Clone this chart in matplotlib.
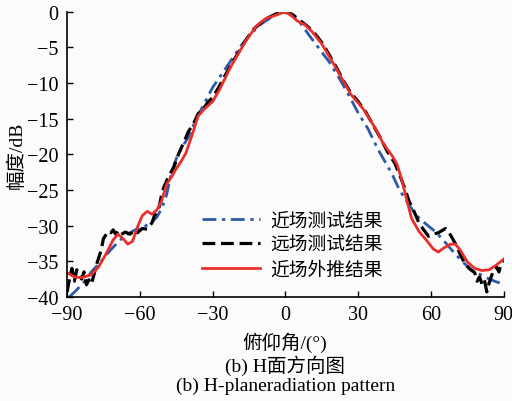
import matplotlib
matplotlib.use("Agg")
import matplotlib.pyplot as plt

# near-field test (blue dash-dot)
nf_ang = [-89, -86, -83, -80, -76, -72, -69, -66, -62, -58, -55, -53, -51, -49, -47, -45, -43,
          -40, -37, -34, -30, -26, -22, -18, -14, -10, -6, -3, 0, 3, 6, 10, 14, 18, 22, 26,
          30, 34, 38, 41, 44, 47, 50, 54, 58, 62, 66, 70, 74, 77, 80, 84, 87, 90]
nf_db = [-40.0, -39.0, -37.9, -36.5, -35.0, -33.4, -32.3, -31.4, -30.6, -30.1, -29.5, -28.8, -27.6,
         -25.7, -22.6, -20.6, -19.2, -17.6, -15.2, -13.2, -10.6, -8.6, -6.6, -4.6, -3.0, -1.7,
         -0.8, -0.3, 0.0, -0.6, -1.5, -3.4, -5.2, -7.0, -9.2, -11.6, -14.2, -16.4, -19.2, -21.0,
         -22.8, -25.0, -26.6, -28.6, -29.8, -30.9, -32.4, -34.0, -35.4, -36.3, -36.8, -37.5,
         -37.9, -38.2]

# far-field test (black dashed)
ff_ang = [-90, -89, -88, -87, -86, -85, -84, -83, -82, -81, -80, -79, -78, -76, -75, -74, -73,
          -72, -71, -70, -69, -68, -66, -64, -62, -61, -59, -57, -55, -54, -53, -52, -51, -50,
          -48, -46, -44, -42, -40, -38, -36, -34, -32, -30, -28, -25, -22, -19, -16, -13, -10,
          -7, -4, -1, 1, 3, 6, 9, 12, 15, 18, 21, 24, 27, 30, 33, 36, 39, 42, 45, 47, 49, 51,
          53, 55, 57, 59, 61, 63, 65, 66, 68, 70, 72, 74, 76, 78, 79, 80, 81, 82, 83, 84, 85,
          86, 87, 88, 89, 90]
ff_db = [-39.3, -37.5, -36.0, -37.8, -36.2, -36.8, -37.5, -36.5, -38.3, -37.6, -38.2, -37.0,
         -35.6, -33.5, -31.8, -31.3, -30.8, -31.0, -30.6, -31.2, -30.8, -31.3, -30.9, -31.2,
         -30.6, -31.0, -30.4, -30.5, -29.6, -28.6, -28.2, -27.3, -25.6, -24.5, -23.0, -21.8,
         -19.9, -18.4, -16.8, -15.8, -14.3, -13.7, -12.7, -12.0, -10.9, -9.0, -7.2, -5.5, -3.8,
         -2.4, -1.5, -0.8, -0.3, 0.0, -0.1, -0.4, -1.2, -2.0, -3.0, -4.3, -6.0, -7.8, -9.7,
         -11.4, -12.6, -14.0, -15.8, -17.6, -19.6, -21.2, -22.8, -24.6, -26.6, -28.0, -29.6,
         -30.6, -31.5, -31.2, -31.0, -30.6, -30.4, -31.3, -32.5, -34.0, -35.4, -36.1, -36.6,
         -37.8, -37.2, -38.2, -37.6, -39.3, -38.0, -37.0, -36.0, -35.8, -36.5, -35.2, -34.8]

# near-field extrapolation (red solid)
ex_ang = [-90, -87, -84, -80, -77, -74, -71, -69, -67, -65, -63, -61, -59, -57, -55, -53, -51,
          -49, -47, -45, -43, -41, -38, -36, -33, -30, -27, -23, -20, -16, -12, -8, -5, -2, 0,
          2, 5, 8, 11, 15, 20, 24, 27, 30, 32, 35, 38, 40, 42, 44, 46, 48, 50, 52, 55, 58, 61,
          63, 65, 68, 70, 72, 75, 78, 81, 84, 87, 90]
ex_db = [-36.6, -37.2, -37.3, -36.9, -35.8, -34.0, -32.0, -31.2, -31.8, -32.6, -32.2, -30.2,
         -28.6, -28.0, -28.4, -27.8, -26.5, -24.2, -23.2, -22.0, -21.0, -19.8, -16.8, -14.6,
         -13.5, -12.6, -10.8, -8.0, -6.2, -3.9, -2.0, -0.9, -0.6, -0.2, 0.0, -0.4, -1.3, -1.8,
         -2.8, -4.5, -7.4, -9.8, -11.6, -12.8, -13.6, -15.2, -16.9, -18.3, -19.3, -20.2, -21.4,
         -23.6, -26.4, -29.0, -30.8, -32.0, -33.3, -33.7, -33.2, -32.6, -32.6, -33.4, -35.1,
         -36.0, -36.3, -36.2, -35.5, -34.7]

labels = ["近场测试结果", "远场测试结果", "近场外推结果"]
xticks = [-90, -60, -30, 0, 30, 60, 90]
yticks = [0, -5, -10, -15, -20, -25, -30, -35, -40]

fam = ["Liberation Serif", "Noto Sans CJK SC"]
plt.rcParams["font.family"] = fam
plt.rcParams["font.size"] = 13.5

fig = plt.figure(figsize=(5.12, 4.02), dpi=100, facecolor="#fbfbfb")
ax = fig.add_axes([0.131, 0.259, 0.853, 0.709])
ax.set_facecolor("#fbfbfb")

ax.plot(nf_ang, nf_db, color="#2c5aa8", lw=2.0, ls=(0, (5, 2, 1.2, 2)), label=labels[0])
ax.plot(ff_ang, ff_db, color="black", lw=2.3, ls=(0, (4, 1.8)), label=labels[1])
ax.plot(ex_ang, ex_db, color="#e8302a", lw=2.0, label=labels[2])

ax.set_xlim(-90, 90)
ax.set_ylim(-40, 0)
ax.set_xticks(xticks)
ax.set_yticks(yticks)
ax.tick_params(direction="in", length=4, width=1, labelsize=14.5, pad=6)
for s in ["top", "right"]:
    ax.spines[s].set_visible(False)
for s in ["left", "bottom"]:
    ax.spines[s].set_linewidth(1.2)

ax.set_ylabel("幅度/dB", fontsize=14, labelpad=1)
ax.legend(loc="center left", bbox_to_anchor=(0.27, 0.18), frameon=False,
          handlelength=3.1, labelspacing=0.38, handletextpad=0.55, fontsize=13.5)

fig.text(0.557, 0.147, "俯仰角/(°)", ha="center", va="center", fontsize=14)
fig.text(0.557, 0.089, "(b) H面方向图", ha="center", va="center", fontsize=14)
fig.text(0.557, 0.038, "(b) H-planeradiation pattern", ha="center", va="center", fontsize=14)

fig.savefig("out.png", dpi=100, facecolor=fig.get_facecolor())
